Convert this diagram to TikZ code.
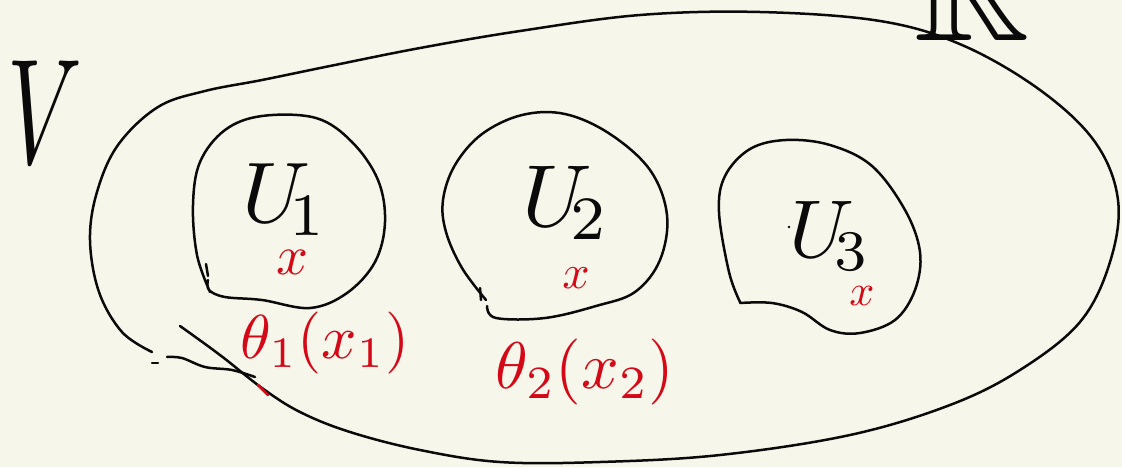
\documentclass[tikz,border=0pt]{standalone}
\usepackage{amssymb}
\usepackage{graphicx}
\definecolor{paper}{RGB}{247,246,235}
\definecolor{ink}{RGB}{10,10,10}
\definecolor{redink}{RGB}{212,8,22}
\begin{document}
\begin{tikzpicture}[x=1pt,y=-1pt,
  stroke/.style={draw=ink,line width=2.5pt,line cap=round,line join=round},
  redstroke/.style={draw=redink,line width=2.5pt,line cap=round,line join=round},
  lbl/.style={text=ink,inner sep=0pt},
  redlbl/.style={text=redink,inner sep=0pt}]
\fill[paper] (0,0) rectangle (1122,467);
\useasboundingbox (0,0) rectangle (1122,467);
% big set (the blob)
\draw[stroke] plot[smooth,tension=0.6] coordinates {(152,352) (122,332) (99,292) (90,240) (97,192) (118,145) (158,107) (205,91) (262,80) (330,66) (420,48) (520,31) (640,15) (760,12) (880,21) (962,45) (1040,90) (1095,142) (1118,200) (1110,262) (1080,322) (1020,370) (950,405) (850,435) (720,455) (600,462) (500,462) (420,450) (350,432) (300,412) (262,388) (220,355) (180,326)};
\draw[stroke] (152,363) -- (158,363);
\draw[stroke] plot[smooth,tension=0.6] coordinates {(167,357) (182,358) (205,367) (232,370) (255,377)};
\draw[redstroke] (258,385) -- (268,395);
% U1 blob
\draw[stroke] plot[smooth,tension=0.6] coordinates {(210,292) (197,255) (193,205) (200,162) (225,130) (262,116) (316,118) (352,142) (378,180) (385,222) (375,262) (347,293) (310,308) (262,300) (225,297) (209,290) (208,280)};
\draw[stroke] (206,264) -- (208,276);
\coordinate (u1) at (288,212);
\node[lbl] (l1) at (285,200) {\scalebox{8.6}{$U_{\!1}$}};
\node[redlbl] (x1) at (292,262) {\scalebox{5.6}{$x$}};
\node[redlbl] (t1) at (325,343) {\scalebox{6.2}{$\theta_{1}(x_{1})$}};
% U2 blob
\draw[stroke] plot[smooth,tension=0.6] coordinates {(486,300) (462,268) (446,232) (443,200) (455,165) (482,134) (522,115) (565,114) (610,134) (650,170) (667,215) (660,260) (635,292) (596,306) (545,318) (496,318) (487,306)};
\draw[stroke] (480,288) -- (481,300);
\coordinate (u2) at (555,215);
\node[lbl] (l2) at (566,203) {\scalebox{8.8}{$U_{\!2}$}};
\node[redlbl] (x2) at (576,278) {\scalebox{4.8}{$x$}};
\node[redlbl] (t2) at (585,372) {\scalebox{6.6}{$\theta_{2}(x_{2})$}};
% U3 blob
\draw[stroke] plot[smooth,tension=0.6] coordinates {(740,302) (729,272) (719,212) (725,176) (750,149) (786,140) (830,145) (872,166) (905,210) (920,252) (915,290) (895,320) (860,333) (830,330) (802,312) (772,303) (740,303)};
\coordinate (u3) at (820,235);
\node[lbl] (l3) at (830,236) {\scalebox{8.2}{$U_{\!3}$}};
\fill[ink] (789,227) circle (1.3);
\node[redlbl] (x3) at (862,296) {\scalebox{4.4}{$x$}};
% V and R
\node[lbl] (v) at (45,112) {\scalebox{9.3}[15]{$V$}};
\node[lbl,anchor=base] (r) at (972,40) {\scalebox{16}{$\mathbb{R}$}};
\end{tikzpicture}
\end{document}
